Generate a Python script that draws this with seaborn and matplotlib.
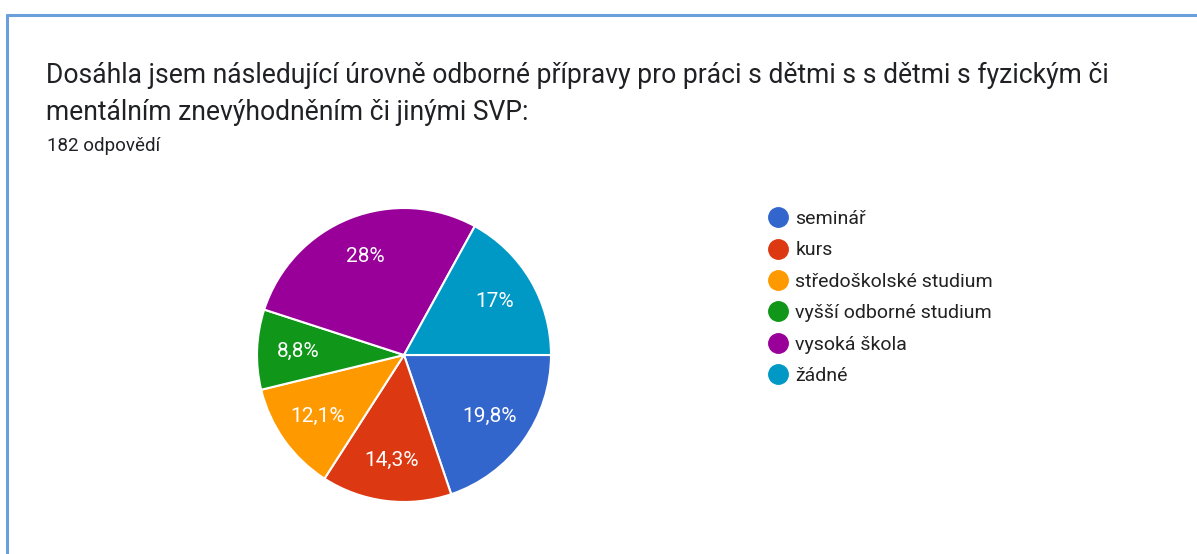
import matplotlib
matplotlib.use("Agg")
import numpy as np
import matplotlib.pyplot as plt
from matplotlib.lines import Line2D
import seaborn as sns

# === Data ===
categories = ["seminář", "kurs", "středoškolské studium",
              "vyšší odborné studium", "vysoká škola", "žádné"]
shares = [19.8, 14.3, 12.1, 8.8, 28.0, 17.0]
pct_labels = ["19,8%", "14,3%", "12,1%", "8,8%", "28%", "17%"]
colors = ["#3366cc", "#dc3912", "#ff9900", "#109618", "#990099", "#0099c6"]

title = ("Dosáhla jsem následující úrovně odborné přípravy pro práci s dětmi s s dětmi s fyzickým či\n"
         "mentálním znevýhodněním či jinými SVP:")
subtitle = "182 odpovědí"

sns.set_theme(style="white")
plt.rcParams["font.family"] = ["Roboto", "DejaVu Sans"]

W, H = 1197, 554
fig = plt.figure(figsize=(W / 100, H / 100), dpi=100)
fig.patch.set_facecolor("white")

# frame lines (top and left only)
border = "#6a9fdc"
fig.add_artist(Line2D([7 / W, 1], [1 - 14.5 / H, 1 - 14.5 / H], color=border, lw=2.2))
fig.add_artist(Line2D([7 / W, 7 / W], [0, 1 - 14.5 / H], color=border, lw=2.2))

fig.text(46 / W, 1 - 75 / H, title.split("\n")[0], fontsize=19.1, color="#202124",
         va="center", ha="left")
fig.text(46 / W, 1 - 112 / H, title.split("\n")[1], fontsize=19.1, color="#202124",
         va="center", ha="left")
fig.text(47 / W, 1 - 146 / H, subtitle, fontsize=13.5, color="#202124",
         va="center", ha="left")

# pie
cx, cy, r = 404, 355, 147
ax = fig.add_axes([(cx - r) / W, (H - cy - r) / H, 2 * r / W, 2 * r / H])
wedges, _ = ax.pie(shares, colors=colors, startangle=0, counterclock=False,
                   wedgeprops=dict(edgecolor="white", linewidth=1.5))
for w, lab in zip(wedges, pct_labels):
    ang = np.deg2rad((w.theta1 + w.theta2) / 2)
    d = 0.72
    ax.text(d * np.cos(ang), d * np.sin(ang), lab, ha="center", va="center",
            color="white", fontsize=15)
ax.set_aspect("equal")
ax.set_xlim(-1, 1)
ax.set_ylim(-1, 1)
ax.axis("off")

# legend
handles = [Line2D([0], [0], marker="o", linestyle="", markersize=14,
                  markerfacecolor=c, markeredgecolor=c) for c in colors]
leg = fig.legend(handles, categories, loc="upper left",
                 bbox_to_anchor=(766 / W, 1 - 210 / H), frameon=False,
                 fontsize=14, labelspacing=0.69, handletextpad=0.3,
                 handlelength=1.2, borderaxespad=0, borderpad=0)
for t in leg.get_texts():
    t.set_color("#222222")

fig.savefig("out.png", dpi=100, facecolor="white")
